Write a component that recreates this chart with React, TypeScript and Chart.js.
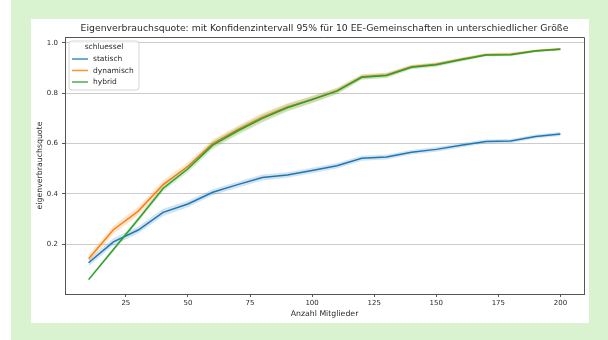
import React, { useEffect, useRef } from "react";
import { Chart, registerables } from "chart.js";

Chart.register(...registerables);

const TITLE = "Eigenverbrauchsquote: mit Konfidenzintervall 95% für 10 EE-Gemeinschaften in unterschiedlicher Größe";
const X_LABEL = "Anzahl Mitglieder";
const Y_LABEL = "eigenverbrauchsquote";
const LEGEND_TITLE = "schluessel";

const mitglieder = [10, 20, 30, 40, 50, 60, 70, 80, 90, 100, 110, 120, 130, 140, 150, 160, 170, 180, 190, 200];

const statisch = [0.127, 0.21, 0.257, 0.327, 0.36, 0.407, 0.437, 0.465, 0.475, 0.493, 0.512, 0.542, 0.547, 0.566, 0.577, 0.593, 0.608, 0.61, 0.628, 0.638];
const dynamisch = [0.143, 0.258, 0.332, 0.437, 0.51, 0.6, 0.655, 0.705, 0.745, 0.775, 0.81, 0.865, 0.872, 0.905, 0.915, 0.935, 0.953, 0.955, 0.968, 0.975];
const hybrid = [0.06, 0.18, 0.3, 0.422, 0.5, 0.594, 0.65, 0.7, 0.742, 0.775, 0.808, 0.863, 0.87, 0.903, 0.913, 0.933, 0.952, 0.953, 0.967, 0.974];

const statischCI = [0.014, 0.014, 0.014, 0.014, 0.013, 0.012, 0.012, 0.012, 0.011, 0.011, 0.011, 0.01, 0.01, 0.009, 0.009, 0.009, 0.008, 0.008, 0.008, 0.008];
const dynamischCI = [0.015, 0.016, 0.016, 0.016, 0.016, 0.016, 0.016, 0.016, 0.015, 0.014, 0.012, 0.01, 0.01, 0.008, 0.008, 0.007, 0.006, 0.006, 0.005, 0.005];
const hybridCI = [0.006, 0.008, 0.01, 0.012, 0.014, 0.016, 0.016, 0.016, 0.015, 0.014, 0.012, 0.01, 0.01, 0.008, 0.008, 0.007, 0.006, 0.006, 0.005, 0.005];

const seriesNames = ["statisch", "dynamisch", "hybrid"];
const seriesValues = [statisch, dynamisch, hybrid];
const seriesCI = [statischCI, dynamischCI, hybridCI];
const seriesColors = ["#1f77b4", "#ff7f0e", "#2ca02c"];
const bandColors = ["rgba(31,119,180,0.2)", "rgba(255,127,14,0.2)", "rgba(44,160,44,0.2)"];

const xTicks = [25, 50, 75, 100, 125, 150, 175, 200];
const yTicks = [0.2, 0.4, 0.6, 0.8, 1.0];

const FONT = '"DejaVu Sans", sans-serif';
const TEXT = "#2b2b2b";
const SPINE = "#555555";

const decorPlugin = {
  id: "decor",
  afterDraw(chart: any) {
    const { ctx, chartArea: a } = chart;
    ctx.save();
    // top + right spines
    ctx.strokeStyle = SPINE;
    ctx.lineWidth = 1;
    ctx.beginPath();
    ctx.moveTo(Math.round(a.left), Math.round(a.top) + 0.5);
    ctx.lineTo(Math.round(a.right) + 0.5, Math.round(a.top) + 0.5);
    ctx.lineTo(Math.round(a.right) + 0.5, Math.round(a.bottom));
    ctx.stroke();

    ctx.fillStyle = TEXT;
    ctx.textAlign = "center";
    ctx.textBaseline = "middle";
    ctx.font = `9.3px ${FONT}`;
    ctx.fillText(TITLE, (a.left + a.right) / 2, 29);

    ctx.font = `7.8px ${FONT}`;
    ctx.fillText(X_LABEL, (a.left + a.right) / 2, 314);

    ctx.save();
    ctx.translate(40, (a.top + a.bottom) / 2);
    ctx.rotate(-Math.PI / 2);
    ctx.fillText(Y_LABEL, 0, 0);
    ctx.restore();

    // legend
    const bx = 69, by = 41, bw = 70, bh = 49, r = 3;
    ctx.beginPath();
    ctx.moveTo(bx + r, by);
    ctx.lineTo(bx + bw - r, by);
    ctx.quadraticCurveTo(bx + bw, by, bx + bw, by + r);
    ctx.lineTo(bx + bw, by + bh - r);
    ctx.quadraticCurveTo(bx + bw, by + bh, bx + bw - r, by + bh);
    ctx.lineTo(bx + r, by + bh);
    ctx.quadraticCurveTo(bx, by + bh, bx, by + bh - r);
    ctx.lineTo(bx, by + r);
    ctx.quadraticCurveTo(bx, by, bx + r, by);
    ctx.closePath();
    ctx.fillStyle = "rgba(255,255,255,0.8)";
    ctx.fill();
    ctx.strokeStyle = "#d6d6d6";
    ctx.lineWidth = 1;
    ctx.stroke();

    ctx.fillStyle = TEXT;
    ctx.font = `7.5px ${FONT}`;
    ctx.textAlign = "center";
    ctx.fillText(LEGEND_TITLE, bx + bw / 2, 47.5);
    const rows = [59, 70.5, 82];
    seriesNames.forEach((name, i) => {
      ctx.strokeStyle = seriesColors[i];
      ctx.globalAlpha = 0.85;
      ctx.lineWidth = 1.5;
      ctx.beginPath();
      ctx.moveTo(72, rows[i]);
      ctx.lineTo(88, rows[i]);
      ctx.stroke();
      ctx.globalAlpha = 1;
      ctx.fillStyle = TEXT;
      ctx.textAlign = "left";
      ctx.fillText(name, 93, rows[i] + 0.5);
    });
    ctx.restore();
  },
};

export default function App() {
  const ref = useRef<HTMLCanvasElement>(null);

  useEffect(() => {
    if (!ref.current) return;
    const datasets: any[] = [];
    // seaborn order: line then band for each series; first drawn = bottom
    let order = 100;
    seriesNames.forEach((name, i) => {
      const vals = seriesValues[i];
      const ci = seriesCI[i];
      datasets.push({
        label: name,
        data: mitglieder.map((x, j) => ({ x, y: vals[j] })),
        borderColor: seriesColors[i],
        borderWidth: 1.5,
        pointRadius: 0,
        fill: false,
        order: order--,
      });
      datasets.push({
        label: name + "-lo",
        data: mitglieder.map((x, j) => ({ x, y: vals[j] - ci[j] })),
        borderWidth: 0,
        borderColor: "rgba(0,0,0,0)",
        pointRadius: 0,
        fill: false,
        order: order--,
      });
      datasets.push({
        label: name + "-hi",
        data: mitglieder.map((x, j) => ({ x, y: vals[j] + ci[j] })),
        borderWidth: 0,
        borderColor: "rgba(0,0,0,0)",
        backgroundColor: bandColors[i],
        pointRadius: 0,
        fill: "-1",
        order: order--,
      });
    });

    const chart = new Chart(ref.current, {
      type: "line",
      data: { datasets },
      plugins: [decorPlugin],
      options: {
        animation: false,
        responsive: false,
        layout: { padding: { left: 30, right: 24, top: 37, bottom: 26 } },
        plugins: {
          legend: { display: false },
          title: { display: false },
          tooltip: { enabled: false },
          filler: { propagate: false },
        },
        scales: {
          x: {
            type: "linear",
            min: 0.5,
            max: 209.5,
            afterFit: (s: any) => { s.height = 20; },
            afterBuildTicks: (s: any) => { s.ticks = xTicks.map((v) => ({ value: v })); },
            grid: { drawOnChartArea: false, drawTicks: true, tickLength: 3, tickColor: SPINE, tickWidth: 1 },
            border: { display: true, color: SPINE, width: 1 },
            ticks: {
              color: TEXT,
              font: { family: FONT, size: 7 },
              padding: 2,
              maxRotation: 0,
              callback: (v: any) => String(v),
            },
          },
          y: {
            type: "linear",
            min: 0.003,
            max: 1.023,
            afterFit: (s: any) => { s.width = 35; },
            afterBuildTicks: (s: any) => { s.ticks = yTicks.map((v) => ({ value: v })); },
            grid: { drawOnChartArea: true, color: "#cccccc", lineWidth: 1, drawTicks: true, tickLength: 3, tickColor: SPINE, tickWidth: 1 },
            border: { display: true, color: SPINE, width: 1 },
            ticks: {
              color: TEXT,
              font: { family: FONT, size: 7 },
              padding: 4,
              callback: (v: any) => Number(v).toFixed(1),
            },
          },
        },
      },
    });
    return () => chart.destroy();
  }, []);

  return (
    <div style={{ position: "fixed", left: 0, top: 0, width: 608, height: 340, background: "#ffffff" }}>
      <div style={{ position: "absolute", left: 11, top: 0, right: 0, bottom: 0, background: "#d9f2d0" }} />
      <div style={{ position: "absolute", left: 31, top: 19, width: 558, height: 304, background: "#ffffff" }} />
      <canvas ref={ref} width={608} height={340} style={{ position: "absolute", left: 0, top: 0, width: 608, height: 340 }} />
    </div>
  );
}
